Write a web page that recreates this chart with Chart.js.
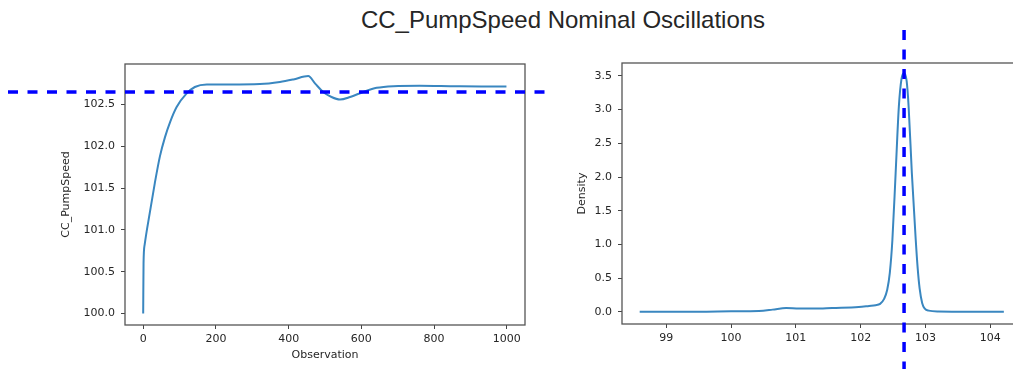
<!DOCTYPE html>
<html>
<head>
<meta charset="utf-8">
<script src="https://cdn.jsdelivr.net/npm/chart.js@4"></script>
<style>
  html, body { margin: 0; padding: 0; background: #fff; width: 1013px; height: 369px; overflow: hidden; }
  #title { position: absolute; left: 563px; top: 8px; transform: translateX(-50%); white-space: nowrap;
           font: 24px "Liberation Sans", Arial, sans-serif; line-height: 24px; color: #262626; }
  canvas { position: absolute; top: 0; }
  #speed_chart { left: 0; }
  #density_chart { left: 560px; }
</style>
</head>
<body>
<div id="title">CC_PumpSpeed Nominal Oscillations</div>
<canvas id="speed_chart" width="560" height="369"></canvas>
<canvas id="density_chart" width="480" height="369"></canvas>
<script>
// left panel: pump speed per observation
var observation = [0, 1, 4, 18, 32, 46, 60, 74, 92, 119, 142, 175, 238, 321, 376, 413, 454, 473, 495, 518, 541, 569, 605, 642, 688, 760, 850, 930, 999];
var pump_speed = [100.0, 100.6, 100.82, 101.20, 101.56, 101.88, 102.11, 102.29, 102.47, 102.63, 102.71, 102.74, 102.74, 102.745, 102.77, 102.80, 102.84, 102.75, 102.65, 102.59, 102.56, 102.59, 102.65, 102.70, 102.72, 102.725, 102.72, 102.716, 102.715];
var speed_x_ticks = [0, 200, 400, 600, 800, 1000];
var speed_y_ticks = [100.0, 100.5, 101.0, 101.5, 102.0, 102.5];
var nominal_speed = 102.65;

// right panel: density of pump speed
var density_x = [98.59, 99.0, 99.5, 100.0, 100.43, 100.64, 100.85, 101.05, 101.3, 101.56, 101.97, 102.13, 102.23, 102.30, 102.36, 102.41, 102.45, 102.49, 102.54, 102.59, 102.63, 102.67, 102.71, 102.74, 102.79, 102.85, 102.88, 102.91, 102.95, 102.99, 103.05, 103.2, 103.7, 104.21];
var density = [0.005, 0.005, 0.005, 0.01, 0.015, 0.035, 0.06, 0.05, 0.05, 0.06, 0.075, 0.09, 0.10, 0.12, 0.19, 0.33, 0.58, 1.07, 2.06, 3.05, 3.45, 3.54, 3.42, 3.05, 2.06, 1.07, 0.65, 0.35, 0.13, 0.05, 0.02, 0.008, 0.005, 0.005];
var density_x_ticks = [99, 100, 101, 102, 103, 104];
var density_y_ticks = [0.0, 0.5, 1.0, 1.5, 2.0, 2.5, 3.0, 3.5];
var density_mark = 102.67;

Chart.defaults.font.family = "'DejaVu Sans', sans-serif";
Chart.defaults.font.size = 11;
Chart.defaults.color = '#262626';

var line_color = '#3a87c0';
var dash_color = '#0000ff';

function fixed_ticks(list) {
  return function (scale) {
    scale.ticks = list.map(function (v) { return { value: v }; });
  };
}

function axis_options(ticks, min, max, fmt, title, title_pad, size, is_x) {
  return {
    type: 'linear',
    min: min,
    max: max,
    afterBuildTicks: fixed_ticks(ticks),
    afterFit: function (scale) {
      if (is_x) scale.height = size; else scale.width = size;
    },
    grid: { drawOnChartArea: false, drawTicks: true, tickLength: 4, color: '#444', lineWidth: 1 },
    border: { display: false },
    ticks: { padding: is_x ? 4 : 6, maxRotation: 0, autoSkip: false, callback: fmt },
    title: { display: title !== '', text: title, padding: title_pad, font: { size: 11 } }
  };
}

// frame + dashed reference line, drawn over the data
function frame_plugin(draw_dash) {
  return {
    id: 'frame',
    afterDatasetsDraw: function (chart) {
      var ctx = chart.ctx;
      var a = chart.chartArea;
      ctx.save();
      ctx.strokeStyle = '#555';
      ctx.lineWidth = 1.3;
      ctx.strokeRect(a.left, a.top, a.right - a.left, a.bottom - a.top);
      ctx.strokeStyle = dash_color;
      ctx.lineWidth = 3.5;
      ctx.setLineDash([10, 9.5]);
      ctx.beginPath();
      draw_dash(chart, ctx, a);
      ctx.stroke();
      ctx.restore();
    }
  };
}

var speed_chart = new Chart(document.getElementById('speed_chart').getContext('2d'), {
  type: 'line',
  data: {
    datasets: [{
      data: observation.map(function (o, i) { return { x: o, y: pump_speed[i] }; }),
      borderColor: line_color,
      borderWidth: 2,
      pointRadius: 0,
      cubicInterpolationMode: 'monotone'
    }]
  },
  options: {
    responsive: false,
    animation: false,
    devicePixelRatio: 1,
    layout: { padding: { left: 0, right: 35, top: 64, bottom: 0 } },
    plugins: { legend: { display: false }, tooltip: { enabled: false } },
    scales: {
      x: axis_options(speed_x_ticks, -50, 1050, function (v) { return String(v); },
        'Observation', { top: 0, bottom: 7 }, 44, true),
      y: axis_options(speed_y_ticks, 99.862, 102.985, function (v) { return v.toFixed(1); },
        'CC_PumpSpeed', { top: 60, bottom: 0 }, 125, false)
    }
  },
  plugins: [frame_plugin(function (chart, ctx, a) {
    var y = chart.scales.y.getPixelForValue(nominal_speed);
    ctx.moveTo(a.left - 117, y);
    ctx.lineTo(a.right + 21, y);
  })]
});

var density_chart = new Chart(document.getElementById('density_chart').getContext('2d'), {
  type: 'line',
  data: {
    datasets: [{
      data: density_x.map(function (x, i) { return { x: x, y: density[i] }; }),
      borderColor: line_color,
      borderWidth: 2,
      pointRadius: 0,
      cubicInterpolationMode: 'monotone'
    }]
  },
  options: {
    responsive: false,
    animation: false,
    devicePixelRatio: 1,
    layout: { padding: { left: 0, right: 18, top: 63, bottom: 0 } },
    plugins: { legend: { display: false }, tooltip: { enabled: false } },
    scales: {
      x: axis_options(density_x_ticks, 98.317, 104.49, function (v) { return String(v); },
        '', { top: 0, bottom: 0 }, 45, true),
      y: axis_options(density_y_ticks, -0.178, 3.69, function (v) { return v.toFixed(1); },
        'Density', { top: 16, bottom: 0 }, 62, false)
    }
  },
  plugins: [frame_plugin(function (chart, ctx, a) {
    var x = chart.scales.x.getPixelForValue(density_mark);
    ctx.moveTo(x, a.top - 33);
    ctx.lineTo(x, chart.height);
  })]
});
</script>
</body>
</html>
